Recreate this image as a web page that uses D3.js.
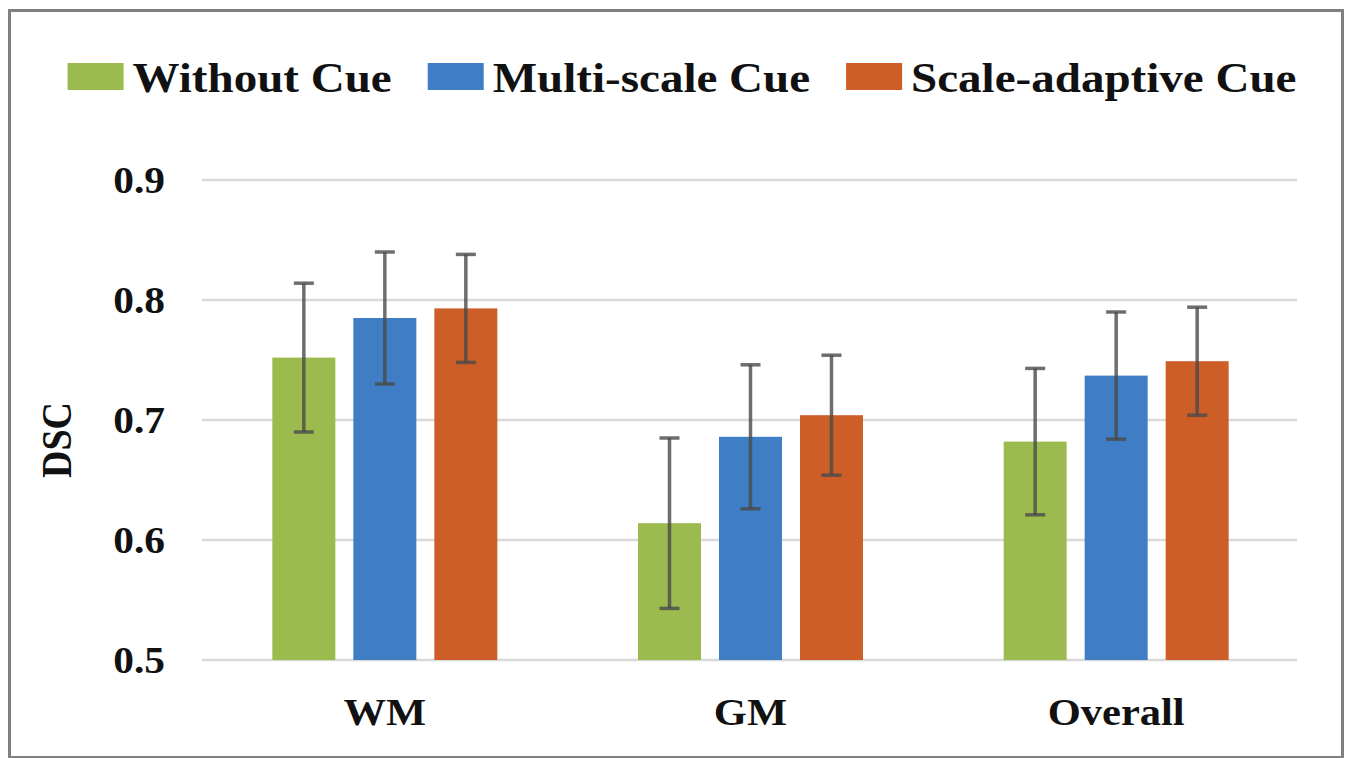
<!DOCTYPE html>
<html>
<head>
<meta charset="utf-8">
<script src="https://cdn.jsdelivr.net/npm/d3@7/dist/d3.min.js"></script>
<style>
  html, body { margin: 0; padding: 0; background: #fff; }
  svg { display: block; }
  text { font-family: "Liberation Serif", "Times New Roman", serif; font-weight: bold; fill: #111; }
</style>
</head>
<body>
<svg id="chart" width="1350" height="758"></svg>
<script>
// Dice similarity (DSC) per tissue class, mean ± standard deviation
const categories = ["WM", "GM", "Overall"];
const seriesNames = ["Without Cue", "Multi-scale Cue", "Scale-adaptive Cue"];
const meanWithout = [0.752, 0.614, 0.682];
const meanMulti = [0.785, 0.686, 0.737];
const meanAdaptive = [0.793, 0.704, 0.749];
const sdWithout = [0.062, 0.071, 0.061];
const sdMulti = [0.055, 0.060, 0.053];
const sdAdaptive = [0.045, 0.050, 0.045];
const yTicks = [0.5, 0.6, 0.7, 0.8, 0.9];
const yLabel = "DSC";

const colors = ["#9bbb4f", "#3f7ec4", "#cd5e27"];
const means = [meanWithout, meanMulti, meanAdaptive];
const sds = [sdWithout, sdMulti, sdAdaptive];

const rows = [];
categories.forEach((c, ci) => {
  seriesNames.forEach((s, si) => {
    rows.push({ cat: c, series: s, si, value: means[si][ci], sd: sds[si][ci] });
  });
});

const svg = d3.select("#chart");
const stretch = 1.12; // typeface is drawn slightly wide

// outer frame
svg.append("rect")
  .attr("x", 9.5).attr("y", 10.5)
  .attr("width", 1333).attr("height", 747)
  .attr("fill", "none")
  .attr("stroke", "#808080")
  .attr("stroke-width", 3);

const plot = { left: 202, right: 1299, top: 180, bottom: 660 };

const x0 = d3.scaleBand().domain(categories).range([plot.left, plot.right]).padding(0);
const groupW = 225;
const x1 = d3.scaleBand().domain(seriesNames)
  .range([(x0.bandwidth() - groupW) / 2, (x0.bandwidth() + groupW) / 2])
  .paddingInner(18 / 81).paddingOuter(0);
const y = d3.scaleLinear().domain([0.5, 0.9]).range([plot.bottom, plot.top]);

// gridlines
svg.append("g")
  .selectAll("line")
  .data(yTicks)
  .join("line")
  .attr("x1", plot.left).attr("x2", 1297)
  .attr("y1", d => y(d)).attr("y2", d => y(d))
  .attr("stroke", "#d9d9d9")
  .attr("stroke-width", 2.5);

// y tick labels
svg.append("g")
  .selectAll("text")
  .data(yTicks)
  .join("text")
  .attr("transform", d => `translate(165,${y(d)}) scale(${stretch},1)`)
  .attr("text-anchor", "end")
  .attr("dy", "0.34em")
  .style("font-size", "37px")
  .text(d => d3.format(".1f")(d));

// y axis title
svg.append("text")
  .attr("transform", `translate(71,440) rotate(-90) scale(1,${stretch})`)
  .attr("text-anchor", "middle")
  .style("font-size", "38px")
  .text(yLabel);

// bars
const groups = svg.append("g")
  .selectAll("g")
  .data(categories)
  .join("g")
  .attr("transform", d => `translate(${x0(d)},0)`);

groups.selectAll("rect")
  .data(c => rows.filter(r => r.cat === c))
  .join("rect")
  .attr("x", d => x1(d.series))
  .attr("width", x1.bandwidth())
  .attr("y", d => y(d.value))
  .attr("height", d => y(0.5) - y(d.value))
  .attr("fill", d => colors[d.si]);

// error bars
const err = groups.selectAll("g.err")
  .data(c => rows.filter(r => r.cat === c))
  .join("g")
  .attr("class", "err")
  .attr("transform", d => `translate(${x1(d.series) + x1.bandwidth() / 2},0)`)
  .attr("stroke", "#4a4a4a")
  .attr("stroke-opacity", 0.8)
  .attr("stroke-width", 3.5);

err.append("line")
  .attr("x1", 0).attr("x2", 0)
  .attr("y1", d => y(d.value + d.sd))
  .attr("y2", d => y(d.value - d.sd));
err.append("line")
  .attr("x1", -10).attr("x2", 10)
  .attr("y1", d => y(d.value + d.sd)).attr("y2", d => y(d.value + d.sd));
err.append("line")
  .attr("x1", -10).attr("x2", 10)
  .attr("y1", d => y(d.value - d.sd)).attr("y2", d => y(d.value - d.sd));

// category labels
svg.append("g")
  .selectAll("text")
  .data(categories)
  .join("text")
  .attr("transform", d => `translate(${x0(d) + x0.bandwidth() / 2},725) scale(${stretch},1)`)
  .attr("text-anchor", "middle")
  .style("font-size", "38px")
  .text(d => d);

// legend
const legend = svg.append("g");
const swW = 56, swH = 27, gapSw = 9, gapItem = 36;
const items = legend.selectAll("g")
  .data(seriesNames)
  .join("g");
items.append("rect")
  .attr("width", swW).attr("height", swH)
  .attr("y", 63)
  .attr("fill", (d, i) => colors[i]);
items.append("text")
  .attr("transform", `translate(${swW + gapSw},92) scale(${stretch},1)`)
  .style("font-size", "42px")
  .text(d => d);

let cursor = 0;
const widths = [];
items.each(function () {
  const t = d3.select(this).select("text").node();
  widths.push(swW + gapSw + t.getComputedTextLength() * stretch);
});
const total = d3.sum(widths) + gapItem * (widths.length - 1);
let start = 682 - total / 2;
items.attr("transform", (d, i) => {
  const tx = start;
  start += widths[i] + gapItem;
  return `translate(${tx},0)`;
});
</script>
</body>
</html>
